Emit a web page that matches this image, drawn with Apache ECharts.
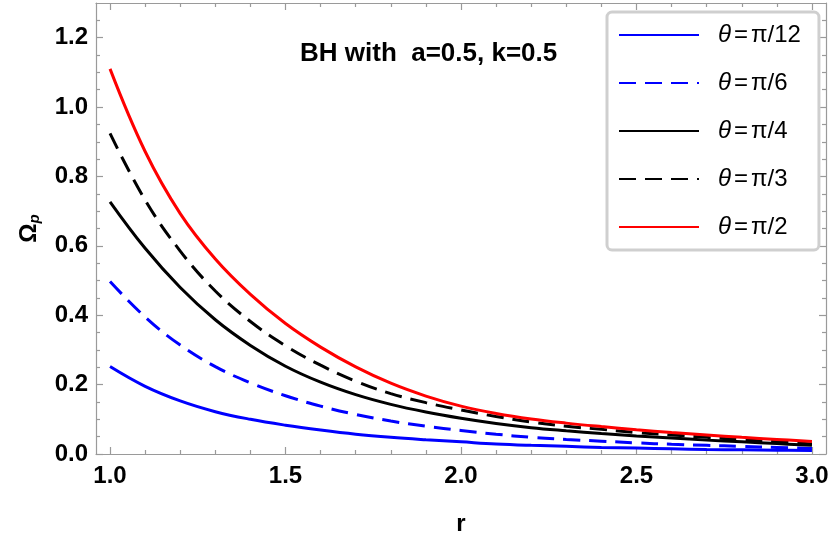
<!DOCTYPE html>
<html>
<head>
<meta charset="utf-8">
<script src="https://cdn.jsdelivr.net/npm/echarts@6/dist/echarts.min.js"></script>
<style>
  html, body { margin: 0; padding: 0; background: #fff; }
  #chart1 { width: 834px; height: 542px; }
</style>
</head>
<body>
<div id="chart1"></div>
<script>
  var rValues = [1.0, 1.1, 1.2, 1.3, 1.4, 1.5, 1.6, 1.7, 1.8, 1.9, 2.0, 2.1, 2.2, 2.3, 2.4, 2.5, 2.6, 2.7, 2.8, 2.9, 3.0];

  // Omega_p values for each theta
  var omegaPi12 = [0.252, 0.195, 0.153, 0.122, 0.100, 0.083, 0.069, 0.057, 0.048, 0.041, 0.035, 0.029, 0.025, 0.022, 0.019, 0.017, 0.015, 0.013, 0.012, 0.011, 0.010];
  var omegaPi6  = [0.497, 0.395, 0.314, 0.252, 0.205, 0.168, 0.138, 0.114, 0.095, 0.080, 0.068, 0.057, 0.048, 0.042, 0.037, 0.032, 0.028, 0.025, 0.022, 0.019, 0.016];
  var omegaPi4  = [0.727, 0.593, 0.480, 0.387, 0.313, 0.253, 0.207, 0.171, 0.143, 0.121, 0.103, 0.088, 0.076, 0.067, 0.059, 0.052, 0.046, 0.040, 0.035, 0.030, 0.025];
  var omegaPi3  = [0.924, 0.732, 0.585, 0.470, 0.382, 0.312, 0.256, 0.210, 0.174, 0.148, 0.127, 0.108, 0.092, 0.080, 0.071, 0.062, 0.055, 0.048, 0.041, 0.035, 0.029];
  var omegaPi2  = [1.110, 0.872, 0.693, 0.562, 0.460, 0.376, 0.308, 0.251, 0.204, 0.167, 0.138, 0.117, 0.101, 0.089, 0.079, 0.070, 0.062, 0.055, 0.048, 0.042, 0.036];

  var seriesNames = ['θ=π/12', 'θ=π/6', 'θ=π/4', 'θ=π/3', 'θ=π/2'];

  var xMajorTicks = [1.0, 1.5, 2.0, 2.5, 3.0];
  var xMinorTicks = [1.1, 1.2, 1.3, 1.4, 1.6, 1.7, 1.8, 1.9, 2.1, 2.2, 2.3, 2.4, 2.6, 2.7, 2.8, 2.9];
  var yMajorTicks = [0.0, 0.2, 0.4, 0.6, 0.8, 1.0, 1.2];
  var yMinorTicks = [0.05, 0.1, 0.15, 0.25, 0.3, 0.35, 0.45, 0.5, 0.55, 0.65, 0.7, 0.75, 0.85, 0.9, 0.95, 1.05, 1.1, 1.15, 1.25];

  const FONT = '"Liberation Sans", Arial, sans-serif';
  const FRAME = '#9a9a9a';

  const toPairs = vals => rValues.map((r, i) => [r, vals[i]]);

  // one axis of the frame: major or minor ticks on one side
  const frameAxis = (pos, ticks, len, withLine, withLabel, extra) => {
    let ax = {
      type: 'value',
      position: pos,
      splitLine: { show: false },
      axisLine: { show: withLine, onZero: false, lineStyle: { color: FRAME, width: 1.2 } },
      axisTick: { show: true, inside: true, length: len, customValues: ticks, lineStyle: { color: FRAME, width: 1.2 } },
      axisLabel: {
        show: withLabel,
        customValues: ticks,
        formatter: v => v.toFixed(1),
        fontFamily: FONT,
        fontWeight: 'bold',
        fontSize: 24,
        color: '#000'
      }
    };
    return Object.assign(ax, extra);
  };

  const makeSeries = (name, vals, color, dashed) => ({
    name: name,
    type: 'line',
    data: toPairs(vals),
    smooth: 0.4,
    symbol: 'none',
    itemStyle: { color: color },
    lineStyle: { color: color, width: 3, type: dashed ? [17, 9] : 'solid' }
  });

  const drawOmega = chartId => {
    let myChart = echarts.init(document.getElementById(chartId));
    let option;

    let xRange = { min: 0.96, max: 3.04 };
    let yRange = { min: 0, max: 1.3 };

    option = {
      animation: false,
      backgroundColor: '#fff',
      title: {
        text: 'BH with  a=0.5, k=0.5',
        left: 295,
        top: 36,
        textStyle: { fontFamily: FONT, fontWeight: 'bold', fontSize: 26, color: '#000' }
      },
      grid: { left: 96, right: 8, top: 3, bottom: 88, containLabel: false },
      legend: {
        orient: 'vertical',
        left: 607,
        top: 12,
        padding: [11, 18, 11, 11],
        itemWidth: 80,
        itemHeight: 14,
        itemGap: 24,
        backgroundColor: '#fff',
        borderColor: '#cfcfcf',
        borderWidth: 3,
        borderRadius: 5,
        itemStyle: { opacity: 0 },
        formatter: name => '{i|θ}{e|=}' + name.slice(2),
        textStyle: {
          fontFamily: FONT, fontSize: 24, color: '#000', padding: [0, 0, 0, 14],
          rich: {
            i: { fontFamily: FONT, fontSize: 24, fontStyle: 'italic', color: '#000' },
            e: { fontFamily: FONT, fontSize: 24, color: '#000', padding: [0, 3, 0, 3] }
          }
        },
        data: seriesNames
      },
      xAxis: [
        frameAxis('bottom', xMajorTicks, 7, true, true, Object.assign({
          name: 'r',
          nameLocation: 'middle',
          nameGap: 58,
          nameTextStyle: { fontFamily: FONT, fontWeight: 'bold', fontSize: 24, color: '#000' },
          axisLabel: {
            show: true, customValues: xMajorTicks, margin: 10,
            formatter: v => v.toFixed(1),
            fontFamily: FONT, fontWeight: 'bold', fontSize: 24, color: '#000'
          }
        }, xRange)),
        frameAxis('bottom', xMinorTicks, 4, false, false, xRange),
        frameAxis('top', xMajorTicks, 7, true, false, xRange),
        frameAxis('top', xMinorTicks, 4, false, false, xRange)
      ],
      yAxis: [
        frameAxis('left', yMajorTicks, 7, true, true, Object.assign({
          name: '{o|Ω}{p|p}',
          nameLocation: 'middle',
          nameGap: 54,
          nameRotate: 90,
          nameTextStyle: {
            rich: {
              o: { fontFamily: FONT, fontWeight: 'bold', fontSize: 24, color: '#000' },
              p: { fontFamily: FONT, fontWeight: 'bold', fontStyle: 'italic', fontSize: 15, color: '#000', verticalAlign: 'bottom', padding: [10, 0, 0, 0] }
            }
          },
          axisLabel: {
            show: true, customValues: yMajorTicks, margin: 8,
            formatter: v => v.toFixed(1),
            fontFamily: FONT, fontWeight: 'bold', fontSize: 24, color: '#000'
          }
        }, yRange)),
        frameAxis('left', yMinorTicks, 4, false, false, yRange),
        frameAxis('right', yMajorTicks, 7, true, false, yRange),
        frameAxis('right', yMinorTicks, 4, false, false, yRange)
      ],
      series: [
        makeSeries(seriesNames[0], omegaPi12, '#0000ff', false),
        makeSeries(seriesNames[1], omegaPi6, '#0000ff', true),
        makeSeries(seriesNames[2], omegaPi4, '#000000', false),
        makeSeries(seriesNames[3], omegaPi3, '#000000', true),
        makeSeries(seriesNames[4], omegaPi2, '#ff0000', false)
      ]
    };

    option && myChart.setOption(option);
  }

  drawOmega('chart1');
</script>
</body>
</html>
